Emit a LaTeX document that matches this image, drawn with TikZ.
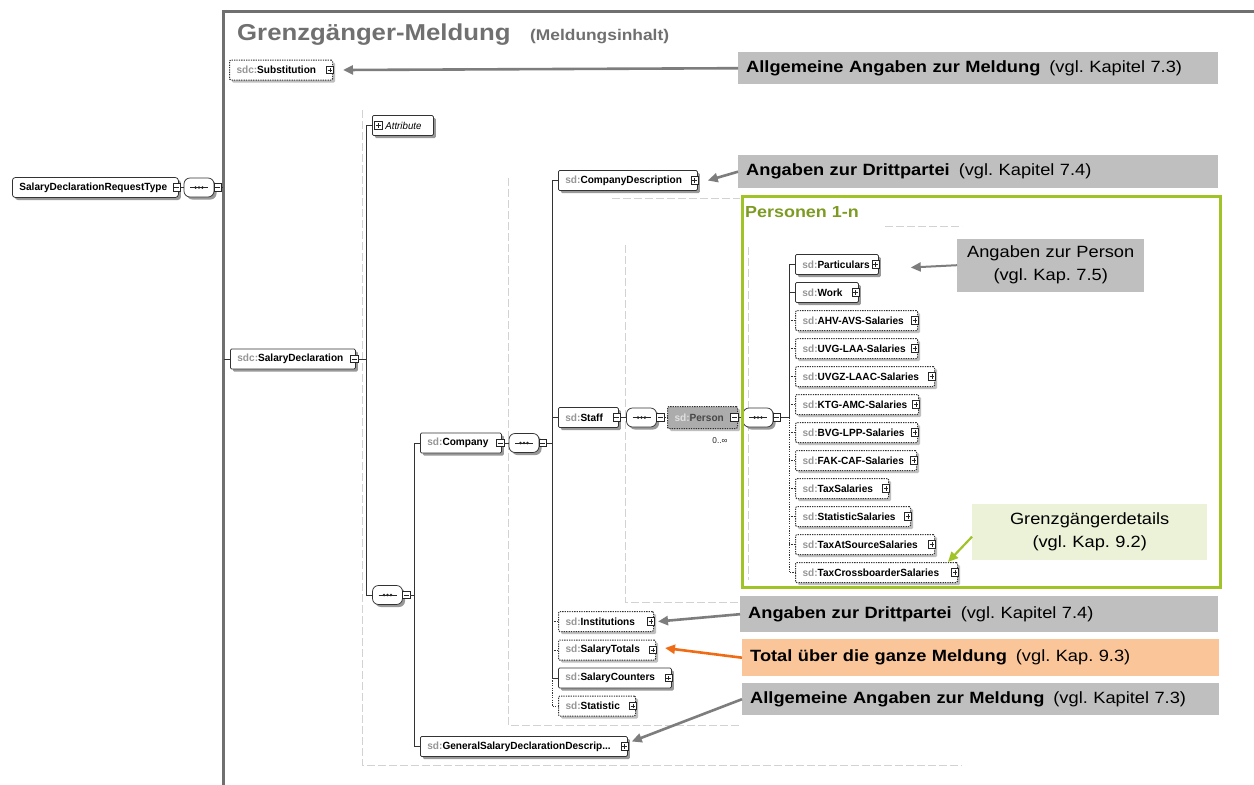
\documentclass[tikz,border=0pt]{standalone}
\usepackage{fontspec}
\setmainfont{Liberation Sans}[FakeStretch=1.12]
\newfontfamily\schemafam{Liberation Sans}[FakeStretch=0.97]
\usetikzlibrary{arrows.meta,shadows}
\frenchspacing

\definecolor{framegray}{RGB}{112,112,112}
\definecolor{titlegray}{RGB}{112,112,112}
\definecolor{calloutgray}{RGB}{191,191,191}
\definecolor{arrowgray}{RGB}{125,125,125}
\definecolor{lime}{RGB}{160,196,40}
\definecolor{limetext}{RGB}{125,155,35}
\definecolor{limefill}{RGB}{236,242,216}
\definecolor{orangefill}{RGB}{250,197,153}
\definecolor{orangearrow}{RGB}{240,108,20}
\definecolor{prefixgray}{RGB}{150,150,150}
\definecolor{guidegray}{RGB}{210,210,210}
\definecolor{selfill}{RGB}{172,172,172}

\newcommand\elemfont{\schemafam\fontsize{10.4}{11}\selectfont\bfseries}
\newcommand\callfont{\fontsize{16.3}{23}\selectfont}
\newcommand\pfx[1]{\textcolor{prefixgray}{#1}}
% element box: style, name, left x, centre y, right x, label
\newcommand\xelem[6]{\node[#1] (#2) at (#3,#4) {\hbox to \dimexpr #5pt-#3pt-14pt\relax{#6\hfil}};}

\tikzset{
  conn/.style={draw=black!80, line width=0.8pt},
  optline/.style={conn, dash pattern=on 1.2pt off 1.2pt},
  guide/.style={draw=guidegray, line width=0.7pt, dash pattern=on 8pt off 3pt},
  elembase/.style={draw=black!80, line width=0.75pt, fill=white, rounded corners=1.2pt,
    minimum height=20pt, inner xsep=7pt, inner ysep=0pt, anchor=west, font=\elemfont},
  elem/.style={elembase, drop shadow={shadow xshift=2.5pt, shadow yshift=-2.5pt, fill=black!40, opacity=1}},
  optelem/.style={elembase, dash pattern=on 1.3pt off 1.1pt, line width=1pt,
    drop shadow={shadow xshift=2.5pt, shadow yshift=-2.5pt, fill=black!25, opacity=1}},
  btn/.style={draw=black!85, fill=white, line width=0.55pt, minimum size=7.5pt, inner sep=0pt, solid},
  plusbtn/.style={btn, path picture={
    \draw[black!85, line width=0.6pt] ([xshift=-2.4pt]path picture bounding box.center) -- ([xshift=2.4pt]path picture bounding box.center)
      ([yshift=-2.4pt]path picture bounding box.center) -- ([yshift=2.4pt]path picture bounding box.center);}},
  minusbtn/.style={btn, path picture={
    \draw[black!85, line width=0.6pt] ([xshift=-2.4pt]path picture bounding box.center) -- ([xshift=2.4pt]path picture bounding box.center);}},
  seq/.style={draw=black!80, line width=0.75pt, fill=white, rounded corners=6pt, minimum width=30pt,
    minimum height=19pt, inner sep=0pt,
    drop shadow={shadow xshift=2.5pt, shadow yshift=-2.5pt, fill=black!40, opacity=1},
    path picture={
      \draw[black!85, line width=0.7pt] ([xshift=-9pt]path picture bounding box.center) -- ([xshift=9pt]path picture bounding box.center);
      \fill[black!85] ([xshift=-3.4pt]path picture bounding box.center) circle[radius=1.4pt];
      \fill[black!85] (path picture bounding box.center) circle[radius=1.4pt];
      \fill[black!85] ([xshift=3.4pt]path picture bounding box.center) circle[radius=1.4pt];}},
  callout/.style={anchor=north west, inner xsep=8pt, inner ysep=0pt, font=\callfont, text=black},
  callarrow/.style={draw=arrowgray, line width=2.6pt, -{Triangle[length=10pt,width=9pt]}},
}

\begin{document}
\begin{tikzpicture}[x=1pt,y=-1pt]
\useasboundingbox[fill=white] (0,0) rectangle (1254,785);

% faint group outlines of the schema view
\draw[guide] (362,110) -- (362,765) -- (962,765);
\draw[guide] (508,178) -- (508,725) -- (740,725);
\draw[guide] (625,245) -- (625,602) -- (740,602);
\draw[guide] (612,198) -- (740,198);
\draw[guide] (885,226) -- (962,226);
\draw[guide] (748,247) -- (748,580);

% content frame
\coordinate (framebl) at (223,790);
\coordinate (frametl) at (223,11);
\coordinate (frametr) at (1260,11);
\draw[framegray, line width=3pt] (framebl) -- (frametl) -- (frametr);

\node[anchor=base west, inner sep=0, text=titlegray, font=\fontsize{23}{26}\selectfont\bfseries] (title) at (237,40) {Grenzgänger-Meldung};
\node[anchor=base west, inner sep=0, text=titlegray, font=\fontsize{15.5}{18}\selectfont\bfseries] (subtitle) at (530,40) {(Meldungsinhalt)};

% root type
\xelem{elem, rounded corners=3pt}{rt}{12}{187.5}{178}{SalaryDeclarationRequestType}
\node[minusbtn] (rtb) at ([xshift=-2pt]rt.east) {};
\node[seq] (c0) at (199,187.5) {};
\node[minusbtn] (c0b) at ([xshift=3.5pt]c0.east) {};
\coordinate (frameRT) at (223,187.5);
\draw[conn] (rtb.east) -- (c0.west);
\draw[conn] (c0b.east) -- (frameRT);

% first level
\xelem{optelem}{subst}{229}{70}{332}{\pfx{sdc:}Substitution}
\node[plusbtn] (substb) at ([xshift=-3pt]subst.east) {};
\xelem{elem}{sdecl}{230}{359}{355}{\pfx{sdc:}SalaryDeclaration}
\node[minusbtn] (sdeclb) at ([xshift=-1.5pt]sdecl.east) {};
\coordinate (frameSD) at (224,359);
\draw[conn] (frameSD) -- (sdecl.west);

\node[elembase, font=\schemafam\fontsize{10}{11}\selectfont\itshape, drop shadow={shadow xshift=2.5pt, shadow yshift=-2.5pt, fill=black!40, opacity=1}]
  (attr) at (372,125.5) {\hbox to 47pt{\hspace{6pt}Attribute\hfil}};
\node[plusbtn] (attrb) at ([xshift=6.5pt]attr.west) {};

\node[seq] (c1) at (387.5,595) {};
\node[minusbtn] (c1b) at ([xshift=3.5pt]c1.east) {};
\coordinate (t1top) at (366,125.5);
\coordinate (t1m) at (366,359);
\coordinate (t1bot) at (366,595);
\draw[conn] (attr.west) -- (t1top) -- (t1bot) -- (c1.west);
\draw[conn] (sdeclb.east) -- (t1m);

% second level
\xelem{elem}{company}{420}{443}{501}{\pfx{sd:}Company}
\node[minusbtn] (companyb) at ([xshift=-1.5pt]company.east) {};
\xelem{elem}{gsd}{420}{746.5}{627}{\pfx{sd:}GeneralSalaryDeclarationDescrip...}
\node[plusbtn] (gsdb) at ([xshift=-3pt]gsd.east) {};
\coordinate (t2top) at (414,443);
\coordinate (t2m) at (414,595);
\coordinate (t2bot) at (414,746.5);
\draw[conn] (company.west) -- (t2top) -- (t2bot) -- (gsd.west);
\draw[conn] (c1b.east) -- (t2m);

\node[seq] (c2) at (524,443) {};
\node[minusbtn] (c2b) at ([xshift=3.5pt]c2.east) {};
\draw[conn] (companyb.east) -- (c2.west);

% company content
\xelem{elem}{cdesc}{558}{180.5}{697}{\pfx{sd:}CompanyDescription}
\node[plusbtn] (cdescb) at ([xshift=-3pt]cdesc.east) {};
\xelem{elem}{staff}{558}{417.5}{618}{\pfx{sd:}Staff}
\node[minusbtn] (staffb) at ([xshift=-2pt]staff.east) {};
\xelem{optelem}{inst}{558}{621.5}{653}{\pfx{sd:}Institutions}
\node[plusbtn] (instb) at ([xshift=-3pt]inst.east) {};
\xelem{optelem}{stot}{558}{650}{655}{\pfx{sd:}SalaryTotals}
\node[plusbtn] (stotb) at ([xshift=-3pt]stot.east) {};
\xelem{elem}{scount}{558}{678}{671}{\pfx{sd:}SalaryCounters}
\node[plusbtn] (scountb) at ([xshift=-3pt]scount.east) {};
\xelem{optelem}{stat}{558}{706}{635}{\pfx{sd:}Statistic}
\node[plusbtn] (statb) at ([xshift=-3pt]stat.east) {};

\coordinate (t3top) at (552,180.5);
\coordinate (t3m) at (552,443);
\coordinate (t3sol) at (552,678);
\coordinate (t3bot) at (552,706);
\draw[conn] (cdesc.west) -- (t3top) -- (t3sol) -- (scount.west);
\draw[optline] (t3sol) -- (t3bot) -- (stat.west);
\draw[conn] (staff.west) -- (staff.west -| t3top);
\draw[optline] (inst.west) -- (inst.west -| t3top);
\draw[optline] (stot.west) -- (stot.west -| t3top);
\draw[conn] (c2b.east) -- (t3m);

% staff and person
\node[seq] (c3) at (641.5,417.5) {};
\node[minusbtn] (c3b) at ([xshift=3.5pt]c3.east) {};
\draw[conn] (staffb.east) -- (c3.west);
\node[optelem, fill=selfill, minimum height=22pt] (person) at (667,417.5)
  {\hbox to 56pt{\textcolor{black!12}{sd:}\textcolor{black!72}{Person}\hfil}};
\node[minusbtn] (personb) at ([xshift=-3.5pt]person.east) {};
\draw[optline] (c3b.east) -- (person.west);
\node[anchor=base, inner sep=0, font=\schemafam\fontsize{8.5}{9}\selectfont, text=black!85] (card) at (720,443) {0..∞};

\node[seq] (c4) at (758,417.5) {};
\node[minusbtn] (c4b) at ([xshift=3.5pt]c4.east) {};
\draw[conn] (personb.east) -- (c4.west);

% person content
\xelem{elem}{part}{795}{264.5}{878}{\pfx{sd:}Particulars}
\xelem{elem}{work}{795}{292.5}{858}{\pfx{sd:}Work}
\xelem{optelem}{ahv}{795}{320.5}{917}{\pfx{sd:}AHV-AVS-Salaries}
\xelem{optelem}{uvg}{795}{348.5}{917}{\pfx{sd:}UVG-LAA-Salaries}
\xelem{optelem}{uvgz}{795}{376.5}{934}{\pfx{sd:}UVGZ-LAAC-Salaries}
\xelem{optelem}{ktg}{795}{404.5}{918}{\pfx{sd:}KTG-AMC-Salaries}
\xelem{optelem}{bvg}{795}{432.5}{917}{\pfx{sd:}BVG-LPP-Salaries}
\xelem{optelem}{fak}{795}{460.5}{916}{\pfx{sd:}FAK-CAF-Salaries}
\xelem{optelem}{tax}{795}{488.5}{888}{\pfx{sd:}TaxSalaries}
\xelem{optelem}{statsal}{795}{516.5}{910}{\pfx{sd:}StatisticSalaries}
\xelem{optelem}{tas}{795}{544.5}{934}{\pfx{sd:}TaxAtSourceSalaries}
\xelem{optelem}{tcb}{795}{572.5}{957}{\pfx{sd:}TaxCrossboarderSalaries}
\node[plusbtn] (partb) at ([xshift=-3pt]part.east) {};
\node[plusbtn] (workb) at ([xshift=-3pt]work.east) {};
\node[plusbtn] (ahvb) at ([xshift=-3pt]ahv.east) {};
\node[plusbtn] (uvgb) at ([xshift=-3pt]uvg.east) {};
\node[plusbtn] (uvgzb) at ([xshift=-3pt]uvgz.east) {};
\node[plusbtn] (ktgb) at ([xshift=-3pt]ktg.east) {};
\node[plusbtn] (bvgb) at ([xshift=-3pt]bvg.east) {};
\node[plusbtn] (fakb) at ([xshift=-3pt]fak.east) {};
\node[plusbtn] (taxb) at ([xshift=-3pt]tax.east) {};
\node[plusbtn] (statsalb) at ([xshift=-3pt]statsal.east) {};
\node[plusbtn] (tasb) at ([xshift=-3pt]tas.east) {};
\node[plusbtn] (tcbb) at ([xshift=-3pt]tcb.east) {};

\coordinate (t4top) at (789,264.5);
\coordinate (t4m) at (789,417.5);
\coordinate (t4bot) at (789,572.5);
\draw[conn] (part.west) -- (t4top) -- (t4m);
\draw[conn] (work.west) -- (work.west -| t4top);
\draw[optline] (t4m) -- (t4bot) -- (tcb.west);
\foreach \k in {ahv,uvg,uvgz,ktg,bvg,fak,tax,statsal,tas}
  \draw[optline] (\k.west) -- (\k.west -| t4top);
\draw[conn] (c4b.east) -- (t4m);

% person group frame
\node[draw=lime, line width=3.2pt, anchor=north west, inner sep=0, minimum width=478pt, minimum height=391pt] (personen) at (741,194.5) {};
\node[anchor=base west, inner sep=0, text=limetext, font=\fontsize{16}{18}\selectfont\bfseries] (ptitle) at (745,217) {Personen 1-n};

% explanatory callouts
\node[callout, fill=calloutgray, text width=464pt, minimum height=32pt, align=left] (a1) at (738,52)
  {\textbf{Allgemeine Angaben zur Meldung}\hspace{9pt}(vgl. Kapitel 7.3)};
\node[callout, fill=calloutgray, text width=464pt, minimum height=33pt, align=left] (d1) at (738,155)
  {\textbf{Angaben zur Drittpartei}\hspace{9pt}(vgl. Kapitel 7.4)};
\node[callout, fill=calloutgray, text width=171pt, minimum height=53pt, align=center] (pc) at (957,238.5)
  {Angaben zur Person\\(vgl. Kap. 7.5)};
\node[callout, fill=limefill, text width=219pt, minimum height=56pt, align=center] (gc) at (972,503.5)
  {Grenzgängerdetails\\(vgl. Kap. 9.2)};
\node[callout, fill=calloutgray, text width=462pt, minimum height=36pt, align=left] (d2) at (740,596)
  {\textbf{Angaben zur Drittpartei}\hspace{9pt}(vgl. Kapitel 7.4)};
\node[callout, fill=orangefill, text width=461pt, minimum height=37pt, align=left] (tot) at (742,639)
  {\textbf{Total über die ganze Meldung}\hspace{9pt}(vgl. Kap. 9.3)};
\node[callout, fill=calloutgray, text width=461pt, minimum height=32pt, align=left] (a2) at (742,683)
  {\textbf{Allgemeine Angaben zur Meldung}\hspace{9pt}(vgl. Kapitel 7.3)};

\draw[callarrow] (a1.west) -- ([xshift=10pt]subst.east);
\draw[callarrow] (d1.west) -- ([xshift=10pt]cdesc.east);
\draw[callarrow, line width=2pt] (pc.west) -- ([xshift=32pt,yshift=-3pt]part.east);
\draw[callarrow, draw=lime, line width=2.2pt] ([yshift=-5pt]gc.west) -- ([xshift=-10pt]tcb.north east);
\draw[callarrow] (d2.west) -- ([xshift=4pt]inst.east);
\draw[callarrow, draw=orangearrow] (tot.west) -- ([xshift=9pt,yshift=2pt]stot.east);
\draw[callarrow] (a2.west) -- ([xshift=4pt,yshift=5pt]gsd.east);
\end{tikzpicture}
\end{document}
